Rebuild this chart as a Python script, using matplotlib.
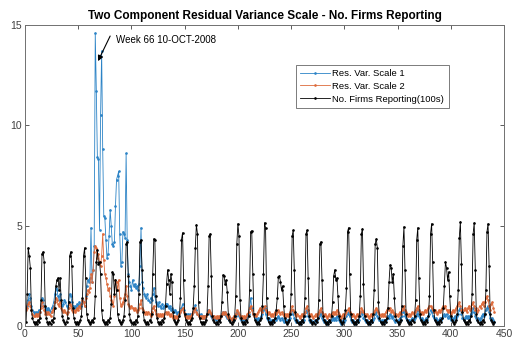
import numpy as np
import matplotlib
matplotlib.use('Agg')
import matplotlib.pyplot as plt

# weekly values, weeks 1..441
scale1 = [
    0.9, 1.0, 1.3, 1.6, 1.4, 1.0, 0.8, 0.7, 0.6, 0.7,
    0.6, 0.7, 0.8, 0.7, 1.0, 1.4, 1.3, 1.0, 0.8, 0.9,
    0.8, 0.9, 0.8, 0.7, 0.9, 1.0, 1.2, 1.6, 1.9, 1.8,
    1.5, 1.3, 1.6, 1.2, 1.0, 1.1, 1.3, 1.2, 1.0, 0.9,
    1.2, 1.6, 1.5, 1.2, 1.0, 0.9, 1.0, 0.9, 1.1, 1.0,
    1.2, 1.1, 1.0, 1.3, 1.2, 1.0, 1.5, 2.0, 2.3, 2.2,
    2.4, 4.9, 2.2, 2.8, 4.0, 14.6, 11.7, 8.4, 8.3, 4.8,
    10.5, 13.7, 8.8, 5.5, 5.4, 4.3, 3.4, 3.6, 4.5, 5.8,
    5.0, 4.1, 4.0, 4.2, 6.0, 7.3, 7.5, 7.7, 4.6, 3.0,
    3.2, 4.7, 4.6, 4.4, 8.6, 4.3, 2.6, 2.2, 2.0, 1.8,
    2.3, 2.0, 2.1, 1.9, 2.0, 1.8, 2.1, 3.0, 4.9, 2.2,
    1.9, 1.6, 1.5, 1.4, 1.6, 1.3, 1.2, 1.4, 1.3, 1.6,
    1.9, 1.5, 1.2, 1.1, 1.0, 1.2, 1.0, 0.9, 1.1, 0.9,
    1.0, 1.1, 1.1, 1.0, 0.9, 1.0, 0.8, 0.9, 0.8, 0.7,
    0.8, 0.7, 0.6, 0.7, 0.6, 0.7, 0.9, 1.1, 0.8, 0.6,
    0.6, 0.5, 0.6, 0.5, 0.6, 0.5, 0.6, 0.7, 0.9, 1.05,
    0.8, 0.6, 0.5, 0.5, 0.6, 0.5, 0.4, 0.5, 0.4, 0.5,
    0.6, 0.8, 0.7, 0.6, 0.5, 0.4, 0.5, 0.4, 0.3, 0.4,
    0.4, 0.3, 0.4, 0.5, 0.6, 0.7, 0.6, 0.7, 0.5, 0.4,
    0.4, 0.3, 0.4, 0.3, 0.4, 0.3, 0.4, 0.5, 0.7, 0.6,
    0.5, 0.4, 0.3, 0.4, 0.3, 0.4, 0.3, 0.4, 0.5, 0.6,
    0.9, 1.4, 0.9, 0.6, 0.5, 0.4, 0.4, 0.3, 0.4, 0.3,
    0.4, 0.5, 0.6, 0.8, 0.9, 0.6, 0.4, 0.3, 0.4, 0.3,
    0.2, 0.3, 0.2, 0.3, 0.4, 0.3, 0.4, 0.5, 0.4, 0.3,
    0.4, 0.3, 0.2, 0.3, 0.2, 0.3, 0.2, 0.3, 0.4, 0.6,
    0.8, 0.6, 0.4, 0.3, 0.2, 0.3, 0.2, 0.1, 0.2, 0.3,
    0.2, 0.3, 0.5, 0.7, 0.8, 0.5, 0.3, 0.2, 0.3, 0.2,
    0.2, 0.3, 0.2, 0.3, 0.4, 0.5, 0.6, 0.7, 0.4, 0.3,
    0.2, 0.3, 0.2, 0.1, 0.2, 0.3, 0.2, 0.3, 0.4, 0.3,
    0.4, 0.3, 0.5, 0.4, 0.3, 0.2, 0.1, 0.2, 0.3, 0.2,
    0.3, 0.5, 0.6, 0.7, 0.5, 0.3, 0.2, 0.3, 0.2, 0.1,
    0.2, 0.3, 0.2, 0.3, 0.5, 0.7, 0.6, 0.4, 0.3, 0.2,
    0.3, 0.2, 0.1, 0.2, 0.3, 0.2, 0.3, 0.4, 0.6, 0.7,
    0.5, 0.4, 0.3, 0.2, 0.3, 0.2, 0.3, 0.2, 0.3, 0.4,
    0.5, 0.4, 0.6, 0.5, 0.4, 0.5, 0.3, 0.2, 0.3, 0.2,
    0.3, 0.4, 0.3, 0.5, 0.7, 0.8, 0.5, 0.4, 0.3, 0.2,
    0.3, 0.2, 0.3, 0.4, 0.3, 0.4, 0.5, 0.6, 0.8, 0.5,
    0.4, 0.3, 0.4, 0.3, 0.2, 0.3, 0.4, 0.3, 0.5, 0.6,
    0.8, 0.7, 0.5, 0.4, 0.3, 0.4, 0.3, 0.2, 0.3, 0.4,
    0.3, 0.4, 0.5, 0.6, 0.5, 0.6, 0.4, 0.5, 0.4, 0.3,
    0.4, 0.3, 0.4, 0.5, 0.4, 0.5, 0.6, 0.8, 0.9, 0.6,
    0.4, 0.3, 0.4, 0.5, 0.4, 0.5, 0.4, 0.5, 0.6, 0.7,
    0.9, 0.7, 0.5, 0.4, 0.3, 0.4, 0.3, 0.4, 0.5, 0.6,
    0.5, 0.6, 0.8, 0.9, 1.0, 0.7, 0.4, 0.3, 0.4, 0.3, 0.2,
]

scale2 = [
    0.8, 0.9, 1.1, 1.2, 1.0, 0.8, 0.6, 0.5, 0.5, 0.6,
    0.5, 0.6, 0.5, 0.7, 0.9, 1.2, 1.0, 0.8, 0.6, 0.7,
    0.6, 0.7, 0.6, 0.5, 0.7, 0.8, 0.9, 1.2, 1.4, 1.3,
    1.1, 1.0, 1.2, 0.9, 0.8, 0.7, 0.8, 0.7, 0.6, 0.7,
    0.9, 1.1, 1.0, 0.8, 0.7, 0.8, 0.7, 0.8, 0.9, 0.8,
    1.0, 0.9, 1.1, 1.3, 1.2, 1.0, 1.4, 1.6, 1.8, 1.7,
    1.9, 2.6, 2.2, 2.8, 3.7, 4.0, 3.9, 3.4, 3.6, 3.2,
    3.0, 3.5, 4.6, 3.3, 2.6, 2.4, 2.1, 1.8, 1.9, 1.5,
    1.3, 1.2, 1.0, 1.5, 2.3, 2.2, 1.8, 2.3, 1.4, 1.0,
    1.1, 1.2, 1.4, 1.6, 2.0, 1.5, 1.1, 1.0, 0.9, 1.0,
    0.9, 0.8, 0.9, 0.8, 0.7, 0.8, 0.9, 1.1, 1.3, 0.9,
    0.8, 0.7, 0.6, 0.7, 0.6, 0.7, 0.6, 0.5, 0.7, 0.9,
    1.0, 0.8, 0.6, 0.5, 0.6, 0.5, 0.6, 0.5, 0.6, 0.5,
    0.6, 0.7, 0.6, 0.7, 0.6, 0.5, 0.6, 0.5, 0.4, 0.5,
    0.4, 0.5, 0.4, 0.5, 0.6, 0.7, 0.8, 0.9, 0.7, 0.5,
    0.4, 0.5, 0.4, 0.5, 0.4, 0.5, 0.6, 0.7, 0.8, 0.9,
    0.7, 0.6, 0.5, 0.4, 0.5, 0.4, 0.5, 0.4, 0.5, 0.5,
    0.6, 0.7, 0.8, 0.7, 0.6, 0.5, 0.4, 0.5, 0.4, 0.5,
    0.4, 0.5, 0.4, 0.5, 0.6, 0.7, 0.6, 0.7, 0.6, 0.5,
    0.4, 0.5, 0.4, 0.3, 0.4, 0.5, 0.4, 0.6, 0.8, 0.7,
    0.6, 0.5, 0.4, 0.5, 0.4, 0.5, 0.4, 0.5, 0.6, 0.7,
    0.9, 1.0, 0.8, 0.6, 0.5, 0.6, 0.5, 0.6, 0.7, 0.8,
    0.9, 0.8, 0.7, 0.9, 1.0, 0.8, 0.7, 0.6, 0.7, 0.6,
    0.5, 0.6, 0.5, 0.6, 0.7, 0.6, 0.7, 0.8, 0.7, 0.6,
    0.7, 0.6, 0.5, 0.6, 0.5, 0.6, 0.5, 0.6, 0.7, 0.8,
    1.0, 0.8, 0.7, 0.6, 0.5, 0.6, 0.5, 0.4, 0.5, 0.6,
    0.5, 0.6, 0.7, 0.9, 1.0, 0.8, 0.6, 0.5, 0.6, 0.5,
    0.4, 0.5, 0.6, 0.5, 0.6, 0.7, 0.8, 0.9, 0.7, 0.6,
    0.5, 0.6, 0.5, 0.4, 0.5, 0.6, 0.5, 0.6, 0.7, 0.6,
    0.7, 0.6, 0.8, 0.7, 0.6, 0.5, 0.4, 0.5, 0.6, 0.5,
    0.6, 0.7, 0.8, 0.9, 0.7, 0.6, 0.5, 0.6, 0.5, 0.4,
    0.5, 0.6, 0.5, 0.6, 0.7, 0.9, 0.8, 0.7, 0.6, 0.5,
    0.6, 0.5, 0.4, 0.5, 0.6, 0.5, 0.6, 0.7, 0.8, 0.9,
    0.8, 0.7, 0.6, 0.5, 0.6, 0.5, 0.6, 0.5, 0.7, 0.8,
    0.9, 0.8, 0.9, 0.7, 0.8, 0.7, 0.6, 0.5, 0.6, 0.5,
    0.6, 0.7, 0.6, 0.8, 0.9, 1.0, 0.8, 0.7, 0.6, 0.5,
    0.6, 0.5, 0.6, 0.7, 0.6, 0.7, 0.8, 0.9, 1.0, 0.8,
    0.7, 0.6, 0.7, 0.6, 0.7, 0.8, 0.7, 0.8, 0.9, 1.0,
    1.0, 0.9, 0.8, 0.7, 0.8, 0.7, 0.6, 0.7, 0.8, 0.7,
    0.8, 0.9, 1.0, 0.9, 1.0, 0.8, 0.7, 0.8, 0.7, 0.6,
    0.7, 0.8, 0.7, 0.8, 0.9, 1.0, 1.1, 1.2, 1.0, 0.8,
    0.7, 0.8, 0.9, 0.8, 0.7, 0.9, 1.0, 0.8, 0.9, 1.1,
    1.2, 1.0, 0.8, 0.9, 0.7, 0.8, 1.0, 0.9, 1.1, 1.2,
    1.0, 1.2, 1.4, 1.5, 1.3, 1.0, 0.8, 1.1, 1.2, 0.9, 0.7,
]

firms = [
    0.2, 1.6, 3.9, 3.5, 2.9, 0.8, 0.4, 0.2, 0.1, 0.2,
    0.1, 0.3, 0.2, 0.4, 1.3, 3.6, 3.7, 3.2, 1.0, 0.4,
    0.2, 0.1, 0.2, 0.1, 0.3, 0.2, 0.4, 0.9, 2.0, 2.3,
    2.4, 1.8, 2.4, 1.3, 0.5, 0.3, 0.2, 0.1, 0.2, 0.4,
    1.2, 3.5, 3.7, 3.0, 0.9, 0.4, 0.2, 0.1, 0.2, 0.1,
    0.2, 0.3, 0.5, 1.4, 3.5, 3.9, 2.4, 0.6, 0.3, 0.2,
    0.1, 0.2, 0.3, 0.2, 0.4, 1.5, 3.2, 3.8, 3.1, 3.2,
    2.6, 0.8, 0.3, 0.2, 0.1, 0.2, 0.1, 0.3, 0.2, 0.4,
    1.1, 2.7, 2.6, 1.6, 2.3, 1.8, 0.6, 0.3, 0.2, 0.1,
    0.2, 0.3, 0.5, 1.3, 4.1, 4.2, 2.5, 0.6, 0.3, 0.2,
    0.1, 0.2, 0.1, 0.3, 0.2, 0.5, 1.6, 4.2, 4.3, 2.8,
    0.7, 0.3, 0.2, 0.1, 0.2, 0.1, 0.3, 0.2, 0.6, 2.6,
    4.35, 4.3, 1.5, 0.4, 0.2, 0.1, 0.2, 0.1, 0.3, 0.2,
    0.4, 1.0, 2.1, 2.8, 2.3, 1.6, 2.6, 2.2, 0.7, 0.3,
    0.2, 0.1, 0.2, 0.3, 0.5, 1.4, 4.3, 4.65, 2.3, 0.6,
    0.3, 0.2, 0.1, 0.2, 0.1, 0.3, 0.4, 0.9, 2.0, 3.9,
    5.05, 4.6, 1.2, 0.4, 0.2, 0.1, 0.2, 0.1, 0.2, 0.3,
    0.6, 2.0, 4.5, 4.6, 2.5, 0.5, 0.3, 0.2, 0.1, 0.2,
    0.1, 0.3, 0.2, 0.5, 1.2, 2.55, 2.5, 2.1, 2.3, 1.7,
    0.6, 0.3, 0.2, 0.1, 0.2, 0.3, 0.5, 1.5, 4.1, 5.1,
    4.5, 1.3, 0.4, 0.2, 0.1, 0.2, 0.1, 0.3, 0.2, 0.5,
    1.8, 4.7, 4.75, 2.6, 0.6, 0.3, 0.2, 0.1, 0.2, 0.1,
    0.3, 0.4, 1.0, 2.6, 5.15, 4.9, 1.4, 0.4, 0.2, 0.1,
    0.2, 0.1, 0.3, 0.2, 0.4, 0.8, 1.4, 2.45, 2.5, 2.2,
    1.8, 2.0, 1.0, 0.4, 0.2, 0.1, 0.2, 0.3, 0.6, 1.6,
    4.5, 4.78, 2.8, 0.7, 0.3, 0.2, 0.1, 0.2, 0.1, 0.3,
    0.2, 0.5, 1.4, 4.6, 4.78, 2.4, 0.5, 0.3, 0.2, 0.1,
    0.2, 0.1, 0.3, 0.2, 0.4, 1.3, 4.1, 4.2, 2.3, 0.5,
    0.3, 0.2, 0.1, 0.2, 0.1, 0.3, 0.2, 0.5, 1.2, 2.5,
    2.8, 2.3, 2.4, 1.5, 0.5, 0.3, 0.2, 0.1, 0.2, 0.4,
    0.8, 1.9, 4.7, 4.9, 2.6, 0.6, 0.3, 0.2, 0.1, 0.2,
    0.1, 0.3, 0.2, 0.5, 1.5, 4.6, 4.85, 2.1, 0.5, 0.3,
    0.2, 0.1, 0.2, 0.1, 0.3, 0.2, 0.6, 1.8, 4.1, 4.35,
    3.9, 1.2, 0.4, 0.2, 0.1, 0.2, 0.1, 0.3, 0.2, 0.4,
    0.9, 2.2, 3.05, 2.9, 2.2, 2.6, 1.4, 0.5, 0.3, 0.2,
    0.1, 0.2, 0.3, 1.0, 4.0, 4.95, 2.8, 0.6, 0.3, 0.2,
    0.1, 0.2, 0.1, 0.3, 0.2, 0.5, 1.3, 4.3, 4.9, 2.4,
    0.6, 0.3, 0.2, 0.1, 0.2, 0.1, 0.3, 0.2, 0.5, 1.5,
    4.6, 5.1, 3.2, 0.8, 0.3, 0.2, 0.1, 0.2, 0.1, 0.3,
    0.2, 0.4, 0.9, 2.0, 3.2, 2.9, 2.3, 2.7, 1.5, 0.5,
    0.3, 0.2, 0.1, 0.2, 0.3, 0.6, 1.8, 4.4, 5.2, 3.1,
    0.7, 0.3, 0.2, 0.1, 0.2, 0.1, 0.3, 0.2, 0.5, 1.6,
    4.6, 5.15, 2.8, 0.6, 0.3, 0.2, 0.1, 0.2, 0.1, 0.3,
    0.2, 0.6, 1.8, 4.7, 5.1, 3.0, 0.6, 0.3, 0.2, 0.1, 0.2,
]

weeks = np.arange(1, len(firms) + 1)

plt.rcParams['font.family'] = ['Liberation Sans', 'DejaVu Sans']
fig = plt.figure(figsize=(5.13, 3.39), dpi=100)
ax = fig.add_axes([25/513, 13/339, 479/513, 301/339])

ax.plot(weeks, scale1, color='#2b83c6', lw=0.6, marker='.', ms=1.8, label='Res. Var. Scale 1')
ax.plot(weeks, scale2, color='#dd6a3a', lw=0.6, marker='.', ms=1.8, label='Res. Var. Scale 2')
ax.plot(weeks, firms, color='black', lw=0.6, marker='.', ms=1.8, label='No. Firms Reporting(100s)')

ax.set_xlim(0, 450)
ax.set_ylim(0, 15)
ax.set_xticks(np.arange(0, 451, 50))
ax.set_yticks([0, 5, 10, 15])
ax.tick_params(direction='in', length=3, width=0.6, top=True, right=True,
               labelsize=7.5, colors='#404040', pad=2)
for s in ax.spines.values():
    s.set_color('#707070')
    s.set_linewidth(0.7)

ax.set_title('Two Component Residual Variance Scale - No. Firms Reporting',
             fontsize=8.5, fontweight='bold', pad=4)

# arrow + label for the Oct 2008 spike
ax.annotate('', xy=(68.6, 13.2), xytext=(80.0, 14.45),
            arrowprops=dict(arrowstyle='-|>', color='black', lw=0.8,
                            mutation_scale=8, shrinkA=0, shrinkB=0))
ax.text(85.5, 14.25, 'Week 66 10-OCT-2008', fontsize=7, va='center', ha='left')

leg = ax.legend(loc='upper left', bbox_to_anchor=(0.566, 0.868), fontsize=6.8,
                frameon=True, fancybox=False, borderpad=0.45, labelspacing=0.4,
                handlelength=3.1, handletextpad=0.3, borderaxespad=0)
leg.get_frame().set_edgecolor('#404040')
leg.get_frame().set_linewidth(0.6)

fig.savefig('out.png', dpi=100)
